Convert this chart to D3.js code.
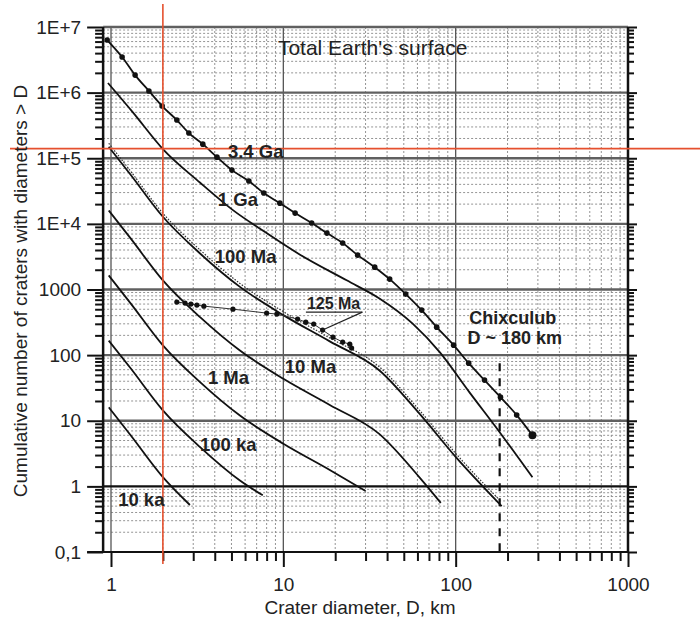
<!DOCTYPE html>
<html>
<head>
<meta charset="utf-8">
<script src="https://cdn.jsdelivr.net/npm/d3@7"></script>
<style>
body { margin: 0; background: #fff; }
text { font-family: Arial, "Liberation Sans", sans-serif; fill: #222; }
</style>
</head>
<body>
<div id="chart"></div>
<script>
// axis ticks
let xTicks = [1, 10, 100, 1000];
let yTicks = [0.1, 1, 10, 100, 1000, 1e4, 1e5, 1e6, 1e7];
let yTickLabels = ["0,1", "1", "10", "100", "1000", "1E+4", "1E+5", "1E+6", "1E+7"];

// total Earth's surface, 3.4 Ga (dotted curve)
let earthD = [0.95, 1.16, 1.38, 1.66, 1.98, 2.41, 2.83, 3.41, 4.12, 5.03, 6.31, 7.7, 9.55, 11.7, 14.6, 17.9, 22.1, 27.0, 33.9, 41.4, 51.3, 63.5, 77.6, 97.3, 119, 147, 182, 226, 279];
let earthN = [6.34e6, 3.49e6, 1.85e6, 1.06e6, 6.25e5, 3.82e5, 2.42e5, 1.64e5, 1.04e5, 6.6e4, 4.49e4, 2.95e4, 2.07e4, 1.46e4, 1.03e4, 7240, 5100, 3340, 2190, 1440, 851, 485, 267, 142, 75.5, 41.6, 22.9, 12.2, 6.0];

// model curves for different ages
let ga1D = [0.96, 1.34, 2, 3.28, 5.1, 8, 12.5, 23.3, 36.3, 56.3, 80.8, 120, 180, 279];
let ga1N = [1.4e6, 5.0e5, 1.38e5, 4.27e4, 1.62e4, 7240, 3390, 1380, 724, 302, 111, 27.3, 6.7, 1.38];

let ma100D = [0.97, 1.3, 2, 3.3, 5.6, 10, 18.6, 36, 62, 100, 185];
let ma100N = [149600, 56100, 12850, 3510, 1096, 407, 162, 58.9, 12.6, 2.82, 0.5];

let ma125D = [0.97, 1.3, 2, 3.3, 5.6, 10, 18.6, 36, 62, 100, 182];
let ma125N = [169000, 63400, 14520, 3970, 1238, 460, 183, 66.6, 14.2, 3.19, 0.6];

let ma10D = [0.97, 1.3, 2, 3.3, 5.6, 10, 18.6, 36, 62, 82];
let ma10N = [16000, 6010, 1377, 376, 117.5, 43.6, 17.4, 6.31, 1.35, 0.56];

let ma1D = [0.97, 1.3, 2, 3.3, 5.6, 10, 18.6, 30];
let ma1N = [1640, 615, 141, 38.5, 12.0, 4.47, 1.78, 0.85];

let ka100D = [0.97, 1.3, 2, 3.3, 5.6, 7.6];
let ka100N = [166, 63, 14.4, 3.94, 1.23, 0.73];

let ka10D = [0.97, 1.3, 2, 2.87];
let ka10N = [16, 6.0, 1.38, 0.52];

// observed craters, 125 Ma
let obs125D = [2.41, 2.69, 2.91, 3.15, 3.46, 5.1, 8.0, 9.17, 12.1, 13.5, 15.0, 16.9, 19.4, 22.1, 24.3, 24.9];
let obs125N = [643, 621, 599, 578, 558, 502, 437, 422, 354, 318, 297, 241, 188, 158, 147, 128];

// reference markers
let chicxulubD = 180;
let redD = 2;
let redN = 1.4e5;

let svgWidth = 700;
let svgHeight = 627;

let svg = d3.select("#chart")
  .append("svg")
  .attr("width", svgWidth)
  .attr("height", svgHeight);

// log scales
let x = d3.scaleLog().domain([1, 1000]).range([111, 628]);
let y = d3.scaleLog().domain([0.1, 1e7]).range([552, 27]);
let xLeft = x(0.9);
let xRight = x(1000);

// minor tick values 2..9 per decade
let minorX = [];
[1, 10, 100].forEach(dec => d3.range(2, 10).forEach(m => minorX.push(dec * m)));
let minorY = [];
[0.1, 1, 10, 100, 1000, 1e4, 1e5, 1e6].forEach(dec => d3.range(2, 10).forEach(m => minorY.push(dec * m)));

let grid = svg.append("g");

// minor grid, dashed
grid.selectAll(".mx").data(minorX).enter().append("line")
  .attr("x1", d => x(d)).attr("x2", d => x(d))
  .attr("y1", y(1e7)).attr("y2", y(0.1))
  .attr("stroke", "#888").attr("stroke-width", 0.9)
  .attr("stroke-dasharray", "2,2");

grid.selectAll(".my").data(minorY).enter().append("line")
  .attr("x1", xLeft).attr("x2", xRight)
  .attr("y1", d => y(d)).attr("y2", d => y(d))
  .attr("stroke", "#888").attr("stroke-width", 0.9)
  .attr("stroke-dasharray", "2,2");

// major grid
grid.selectAll(".Mx").data([1, 10, 100]).enter().append("line")
  .attr("x1", d => x(d)).attr("x2", d => x(d))
  .attr("y1", y(1e7)).attr("y2", y(0.1))
  .attr("stroke", "#555").attr("stroke-width", 1.3);

grid.selectAll(".My").data([1e7, 1e6, 1e5, 1e4, 1000, 100, 10]).enter().append("line")
  .attr("x1", xLeft).attr("x2", xRight)
  .attr("y1", d => y(d)).attr("y2", d => y(d))
  .attr("stroke", "#606060").attr("stroke-width", 2.3);

grid.append("line")
  .attr("x1", xLeft).attr("x2", xRight)
  .attr("y1", y(1)).attr("y2", y(1))
  .attr("stroke", "#111").attr("stroke-width", 2.2);

// axes
function styleAxis(g) {
  g.select(".domain").remove();
  g.selectAll(".tick line").attr("stroke", "#111").attr("stroke-width", 2);
  g.selectAll("text").attr("font-size", "19px").attr("fill", "#333");
}

svg.append("g")
  .attr("transform", `translate(${xLeft},0)`)
  .call(d3.axisLeft(y).tickValues(yTicks).tickSize(16).tickPadding(6)
    .tickFormat((d, i) => yTickLabels[i]))
  .call(styleAxis);

svg.append("g")
  .attr("transform", `translate(${xLeft},0)`)
  .call(d3.axisLeft(y).tickValues(minorY).tickSize(8).tickFormat(""))
  .call(styleAxis);

svg.append("g")
  .attr("transform", `translate(${xRight},0)`)
  .call(d3.axisRight(y).tickValues(yTicks).tickSize(9).tickFormat(""))
  .call(styleAxis);

svg.append("g")
  .attr("transform", `translate(${xRight},0)`)
  .call(d3.axisRight(y).tickValues(minorY).tickSize(6).tickFormat(""))
  .call(styleAxis);

svg.append("g")
  .attr("transform", `translate(0,${y(0.1)})`)
  .call(d3.axisBottom(x).tickValues(xTicks).tickSize(15).tickPadding(11)
    .tickFormat(d3.format("d")))
  .call(styleAxis);

svg.append("g")
  .attr("transform", `translate(0,${y(0.1)})`)
  .call(d3.axisBottom(x).tickValues(minorX).tickSize(9).tickFormat(""))
  .call(styleAxis);

// frame
svg.append("line").attr("x1", xLeft).attr("x2", xLeft).attr("y1", y(1e7)).attr("y2", y(0.1))
  .attr("stroke", "#111").attr("stroke-width", 2.5);
svg.append("line").attr("x1", xRight).attr("x2", xRight).attr("y1", y(1e7)).attr("y2", y(0.1))
  .attr("stroke", "#111").attr("stroke-width", 2.5);
svg.append("line").attr("x1", xLeft - 16).attr("x2", xRight).attr("y1", y(0.1)).attr("y2", y(0.1))
  .attr("stroke", "#111").attr("stroke-width", 2);

// curves
let line = d3.line()
  .x(d => x(d[0]))
  .y(d => y(d[1]))
  .curve(d3.curveMonotoneX);

let curves = [
  [ga1D, ga1N],
  [ma100D, ma100N],
  [ma10D, ma10N],
  [ma1D, ma1N],
  [ka100D, ka100N],
  [ka10D, ka10N]
];

svg.selectAll(".curve").data(curves).enter().append("path")
  .attr("d", c => line(d3.zip(c[0], c[1])))
  .attr("fill", "none")
  .attr("stroke", "#111")
  .attr("stroke-width", 1.8);

// 125 Ma model, dotted
svg.append("path")
  .attr("d", line(d3.zip(ma125D, ma125N)))
  .attr("fill", "none")
  .attr("stroke", "#333")
  .attr("stroke-width", 1.2)
  .attr("stroke-dasharray", "1.5,1.5");

// total Earth surface with dots
let earth = d3.zip(earthD, earthN);
svg.append("path")
  .attr("d", line(earth))
  .attr("fill", "none")
  .attr("stroke", "#111")
  .attr("stroke-width", 1.8);

svg.selectAll(".edot").data(earth).enter().append("circle")
  .attr("cx", d => x(d[0]))
  .attr("cy", d => y(d[1]))
  .attr("r", (d, i) => i === earth.length - 1 ? 4 : 2.8)
  .attr("fill", "#111");

// observed 125 Ma craters
let obs = d3.zip(obs125D, obs125N);
svg.append("path")
  .attr("d", d3.line().x(d => x(d[0])).y(d => y(d[1]))(obs))
  .attr("fill", "none")
  .attr("stroke", "#333")
  .attr("stroke-width", 1);

svg.selectAll(".odot").data(obs).enter().append("circle")
  .attr("cx", d => x(d[0]))
  .attr("cy", d => y(d[1]))
  .attr("r", 2.6)
  .attr("fill", "#111");

// Chicxulub dashed line
svg.append("line")
  .attr("x1", x(chicxulubD)).attr("x2", x(chicxulubD))
  .attr("y1", y(75)).attr("y2", y(0.1))
  .attr("stroke", "#111").attr("stroke-width", 2.2)
  .attr("stroke-dasharray", "8,7");

// red guide lines
svg.append("line")
  .attr("x1", x(redD)).attr("x2", x(redD))
  .attr("y1", 4).attr("y2", y(0.1) + 12)
  .attr("stroke", "#e5502e").attr("stroke-width", 1.6);
svg.append("line")
  .attr("x1", 10).attr("x2", svgWidth)
  .attr("y1", y(redN)).attr("y2", y(redN))
  .attr("stroke", "#e5502e").attr("stroke-width", 1.6);

// labels
function label(text, d, n, size, bold, anchor) {
  return svg.append("text")
    .attr("x", x(d))
    .attr("y", y(n))
    .attr("font-size", size + "px")
    .attr("font-weight", bold ? "bold" : "normal")
    .attr("text-anchor", anchor || "start")
    .text(text);
}

label("Total Earth's surface", 33, 3.7e6, 21, false, "middle");
label("3.4 Ga", 4.77, 1.0e5, 18.5, true);
label("1 Ga", 4.17, 1.87e4, 18.5, true);
label("100 Ma", 4.0, 2520, 18.5, true);
label("10 Ma", 10.2, 53, 18.5, true);
label("1 Ma", 3.65, 36, 18.5, true);
label("100 ka", 3.28, 3.44, 18.5, true);
label("10 ka", 1.1, 0.5, 18.5, true);
label("Chixculub", 120, 297, 18, true);
label("D ~ 180 km", 117, 147, 18, true);

let l125 = label("125 Ma", 13.7, 502, 16, true);
let bb = l125.node().getBBox();
svg.append("line")
  .attr("x1", bb.x - 1).attr("x2", bb.x + bb.width + 2)
  .attr("y1", y(502) + 3).attr("y2", y(502) + 3)
  .attr("stroke", "#222").attr("stroke-width", 1.2);
svg.append("line")
  .attr("x1", bb.x + bb.width + 2).attr("x2", x(16.9))
  .attr("y1", y(502) + 3).attr("y2", y(241))
  .attr("stroke", "#222").attr("stroke-width", 1.2);

// axis titles
svg.append("text")
  .attr("x", 360)
  .attr("y", 614)
  .attr("text-anchor", "middle")
  .attr("font-size", "19px")
  .attr("fill", "#333")
  .text("Crater diameter, D, km");

svg.append("text")
  .attr("transform", "translate(27,291) rotate(-90)")
  .attr("text-anchor", "middle")
  .attr("font-size", "19px")
  .attr("fill", "#333")
  .text("Cumulative number of craters with diameters > D");
</script>
</body>
</html>
